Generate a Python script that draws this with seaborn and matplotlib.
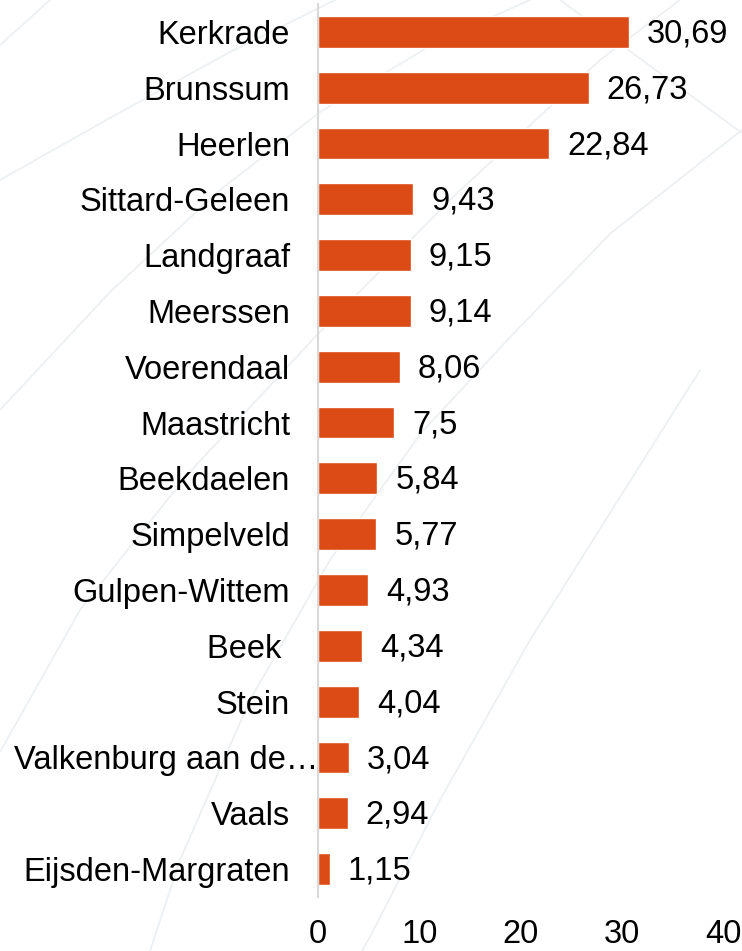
import matplotlib
matplotlib.use("Agg")
import matplotlib.pyplot as plt
from matplotlib.lines import Line2D
import seaborn as sns
import pandas as pd

# gemeenten en waarden
gemeenten = ["Kerkrade", "Brunssum", "Heerlen", "Sittard-Geleen", "Landgraaf",
             "Meerssen", "Voerendaal", "Maastricht", "Beekdaelen", "Simpelveld",
             "Gulpen-Wittem", "Beek ", "Stein", "Valkenburg aan de…", "Vaals",
             "Eijsden-Margraten"]
waarden = [30.69, 26.73, 22.84, 9.43, 9.15, 9.14, 8.06, 7.5, 5.84, 5.77,
           4.93, 4.34, 4.04, 3.04, 2.94, 1.15]
xticks = [0, 10, 20, 30, 40]
lang = "Valkenburg aan de…"  # label that runs up to the axis line

df = pd.DataFrame({"gemeente": gemeenten, "waarde": waarden})

sns.set_style("white")
plt.rcParams["font.family"] = ["Liberation Sans", "DejaVu Sans"]

W, H = 742, 951
fig = plt.figure(figsize=(W / 100, H / 100), dpi=100)

# faint decorative background curves (pixel coords of the canvas)
deco = [
    [(0, 45), (50, 0)],
    [(0, 180), (110, 118), (230, 52), (335, 0)],
    [(0, 410), (110, 292), (220, 190), (320, 112), (440, 40), (530, 0)],
    [(0, 752), (80, 610), (187, 475), (317, 335), (450, 200), (600, 60), (680, 0)],
    [(560, 0), (742, 133)],
    [(742, 130), (611, 233), (514, 333), (421, 433), (330, 560), (250, 700), (180, 860), (150, 951)],
    [(700, 370), (634, 475), (530, 640), (440, 800), (371, 935), (362, 951)],
]
for pts in deco:
    xs = [p[0] / W for p in pts]
    ys = [1 - p[1] / H for p in pts]
    fig.add_artist(Line2D(xs, ys, transform=fig.transFigure, color="#edf0f2",
                          lw=1.3, zorder=-1, solid_capstyle="round"))

ax = fig.add_axes([0.4286, 0.0568, 0.5458, 0.939])
ax.patch.set_alpha(0)

sns.barplot(data=df, x="waarde", y="gemeente", orient="h", color="#dc4a15",
            saturation=1, width=0.57, ax=ax)

for i, v in enumerate(waarden):
    label = f"{v:g}".replace(".", ",")
    ax.annotate(label, (v, i), xytext=(13, -1.5), textcoords="offset points",
                ha="left", va="center", fontsize=23.5, color="black")

ax.set_xlim(0, 40)
ax.set_ylim(len(gemeenten) - 0.5, -0.5)
ax.set_xticks(xticks)
ax.set_xticklabels([str(t) for t in xticks])
ax.set_yticks(range(len(gemeenten)))
ax.set_yticklabels(["" if g == lang else g for g in gemeenten])
ax.set_xlabel("")
ax.set_ylabel("")
ax.tick_params(axis="both", length=0, labelsize=23.5, labelcolor="black")
ax.tick_params(axis="x", pad=16)
ax.tick_params(axis="y", pad=20)

# the long label is not padded like the others, it ends at the axis line
ax.annotate(lang, (0, gemeenten.index(lang)), xytext=(0, 0),
            textcoords="offset points", ha="right", va="center_baseline",
            fontsize=23.5, color="black", annotation_clip=False)

for s in ["top", "right", "bottom"]:
    ax.spines[s].set_visible(False)
ax.spines["left"].set_color("#d9d9d9")
ax.spines["left"].set_linewidth(1.5)

fig.savefig("out.png", dpi=100)
